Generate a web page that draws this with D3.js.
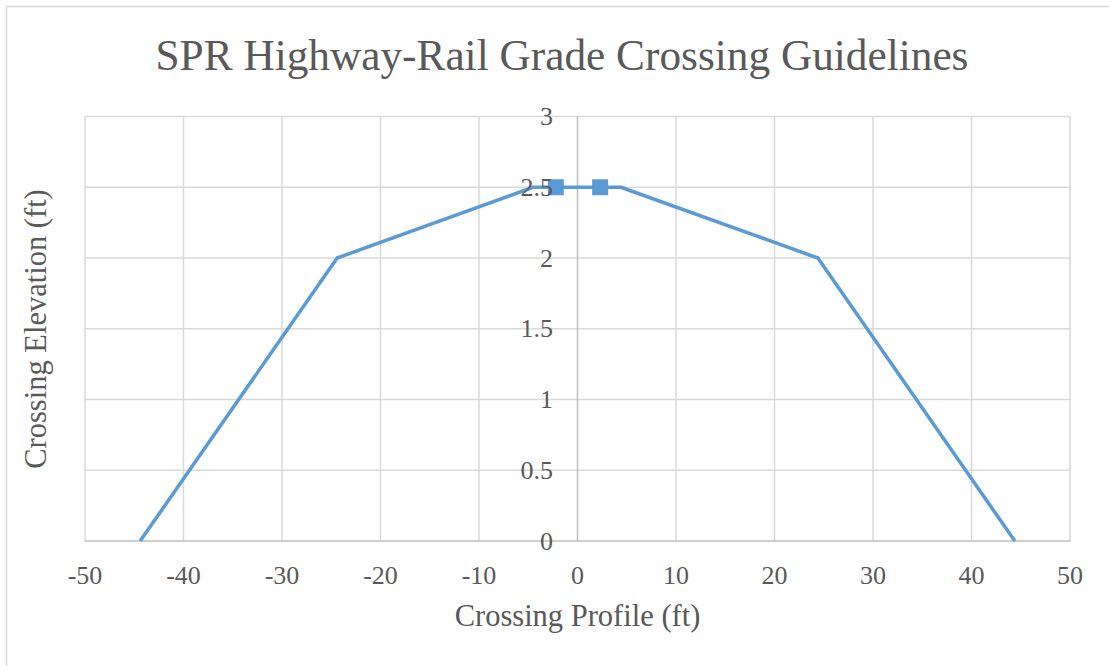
<!DOCTYPE html>
<html>
<head>
<meta charset="utf-8">
<script src="https://cdn.jsdelivr.net/npm/d3@7"></script>
<style>
  body { margin: 0; background: #fff; }
  text { font-family: "Liberation Serif", "Times New Roman", serif; fill: #595959; }
</style>
</head>
<body>
<svg id="chart" width="1109" height="666"></svg>
<script>
// profile of the crossing (ft)
const profileX = [-44.4, -24.4, -4.5, -2.2, 2.3, 4.4, 24.4, 44.4];
const profileY = [0, 2, 2.5, 2.5, 2.5, 2.5, 2, 0];
// rail points shown with markers
const railX = [-2.2, 2.3];
const railY = [2.5, 2.5];
const xTicks = [-50, -40, -30, -20, -10, 0, 10, 20, 30, 40, 50];
const yTicks = [0, 0.5, 1, 1.5, 2, 2.5, 3];

const svg = d3.select('#chart');
const plot = { left: 85, right: 1070, top: 116.5, bottom: 541 };

const x = d3.scaleLinear().domain([-50, 50]).range([plot.left, plot.right]);
const y = d3.scaleLinear().domain([0, 3]).range([plot.bottom, plot.top]);

// chart border
svg.append('rect')
  .attr('x', 6.5).attr('y', 6.5)
  .attr('width', 1120).attr('height', 680)
  .attr('fill', 'none')
  .attr('stroke', '#d9d9d9')
  .attr('stroke-width', 1.5);

svg.append('text')
  .attr('x', 562).attr('y', 70)
  .attr('text-anchor', 'middle')
  .style('font-size', '43.3px')
  .text('SPR Highway-Rail Grade Crossing Guidelines');

// gridlines
const grid = svg.append('g').attr('class', 'grid');
grid.selectAll('.vgrid').data(xTicks.filter(d => d !== 0)).enter().append('line')
  .attr('x1', d => x(d)).attr('x2', d => x(d))
  .attr('y1', plot.top).attr('y2', plot.bottom)
  .attr('stroke', '#d9d9d9').attr('stroke-width', 1.5);
grid.selectAll('.hgrid').data(yTicks.filter(d => d !== 0)).enter().append('line')
  .attr('x1', plot.left).attr('x2', plot.right)
  .attr('y1', d => y(d)).attr('y2', d => y(d))
  .attr('stroke', '#d9d9d9').attr('stroke-width', 1.5);

// axis lines
svg.append('line')
  .attr('x1', plot.left).attr('x2', plot.right)
  .attr('y1', y(0)).attr('y2', y(0))
  .attr('stroke', '#bfbfbf').attr('stroke-width', 1.5);
svg.append('line')
  .attr('x1', x(0)).attr('x2', x(0))
  .attr('y1', plot.top).attr('y2', plot.bottom)
  .attr('stroke', '#bfbfbf').attr('stroke-width', 1.5);

// x tick labels
svg.append('g').selectAll('text').data(xTicks).enter().append('text')
  .attr('x', d => x(d)).attr('y', 584)
  .attr('text-anchor', 'middle')
  .style('font-size', '26px')
  .text(d => d);

// series
const pts = profileX.map((d, i) => [d, profileY[i]]);
const line = d3.line().x(d => x(d[0])).y(d => y(d[1]));
svg.append('path')
  .datum(pts)
  .attr('d', line)
  .attr('fill', 'none')
  .attr('stroke', '#5b9bd5')
  .attr('stroke-width', 3.5)
  .attr('stroke-linejoin', 'round');

svg.append('g').selectAll('rect').data(railX.map((d, i) => [d, railY[i]])).enter().append('rect')
  .attr('x', d => x(d[0]) - 8).attr('y', d => y(d[1]) - 8)
  .attr('width', 16).attr('height', 16)
  .attr('fill', '#5b9bd5');

// y tick labels (drawn over the series, like the reference)
svg.append('g').selectAll('text').data(yTicks).enter().append('text')
  .attr('x', 553).attr('y', d => y(d))
  .attr('dy', '0.33em')
  .attr('text-anchor', 'end')
  .style('font-size', '26px')
  .text(d => d);

// axis titles
svg.append('text')
  .attr('x', x(0)).attr('y', 626)
  .attr('text-anchor', 'middle')
  .style('font-size', '30.5px')
  .text('Crossing Profile (ft)');
svg.append('text')
  .attr('transform', 'translate(46,329) rotate(-90)')
  .attr('text-anchor', 'middle')
  .style('font-size', '30.5px')
  .text('Crossing Elevation (ft)');
</script>
</body>
</html>
